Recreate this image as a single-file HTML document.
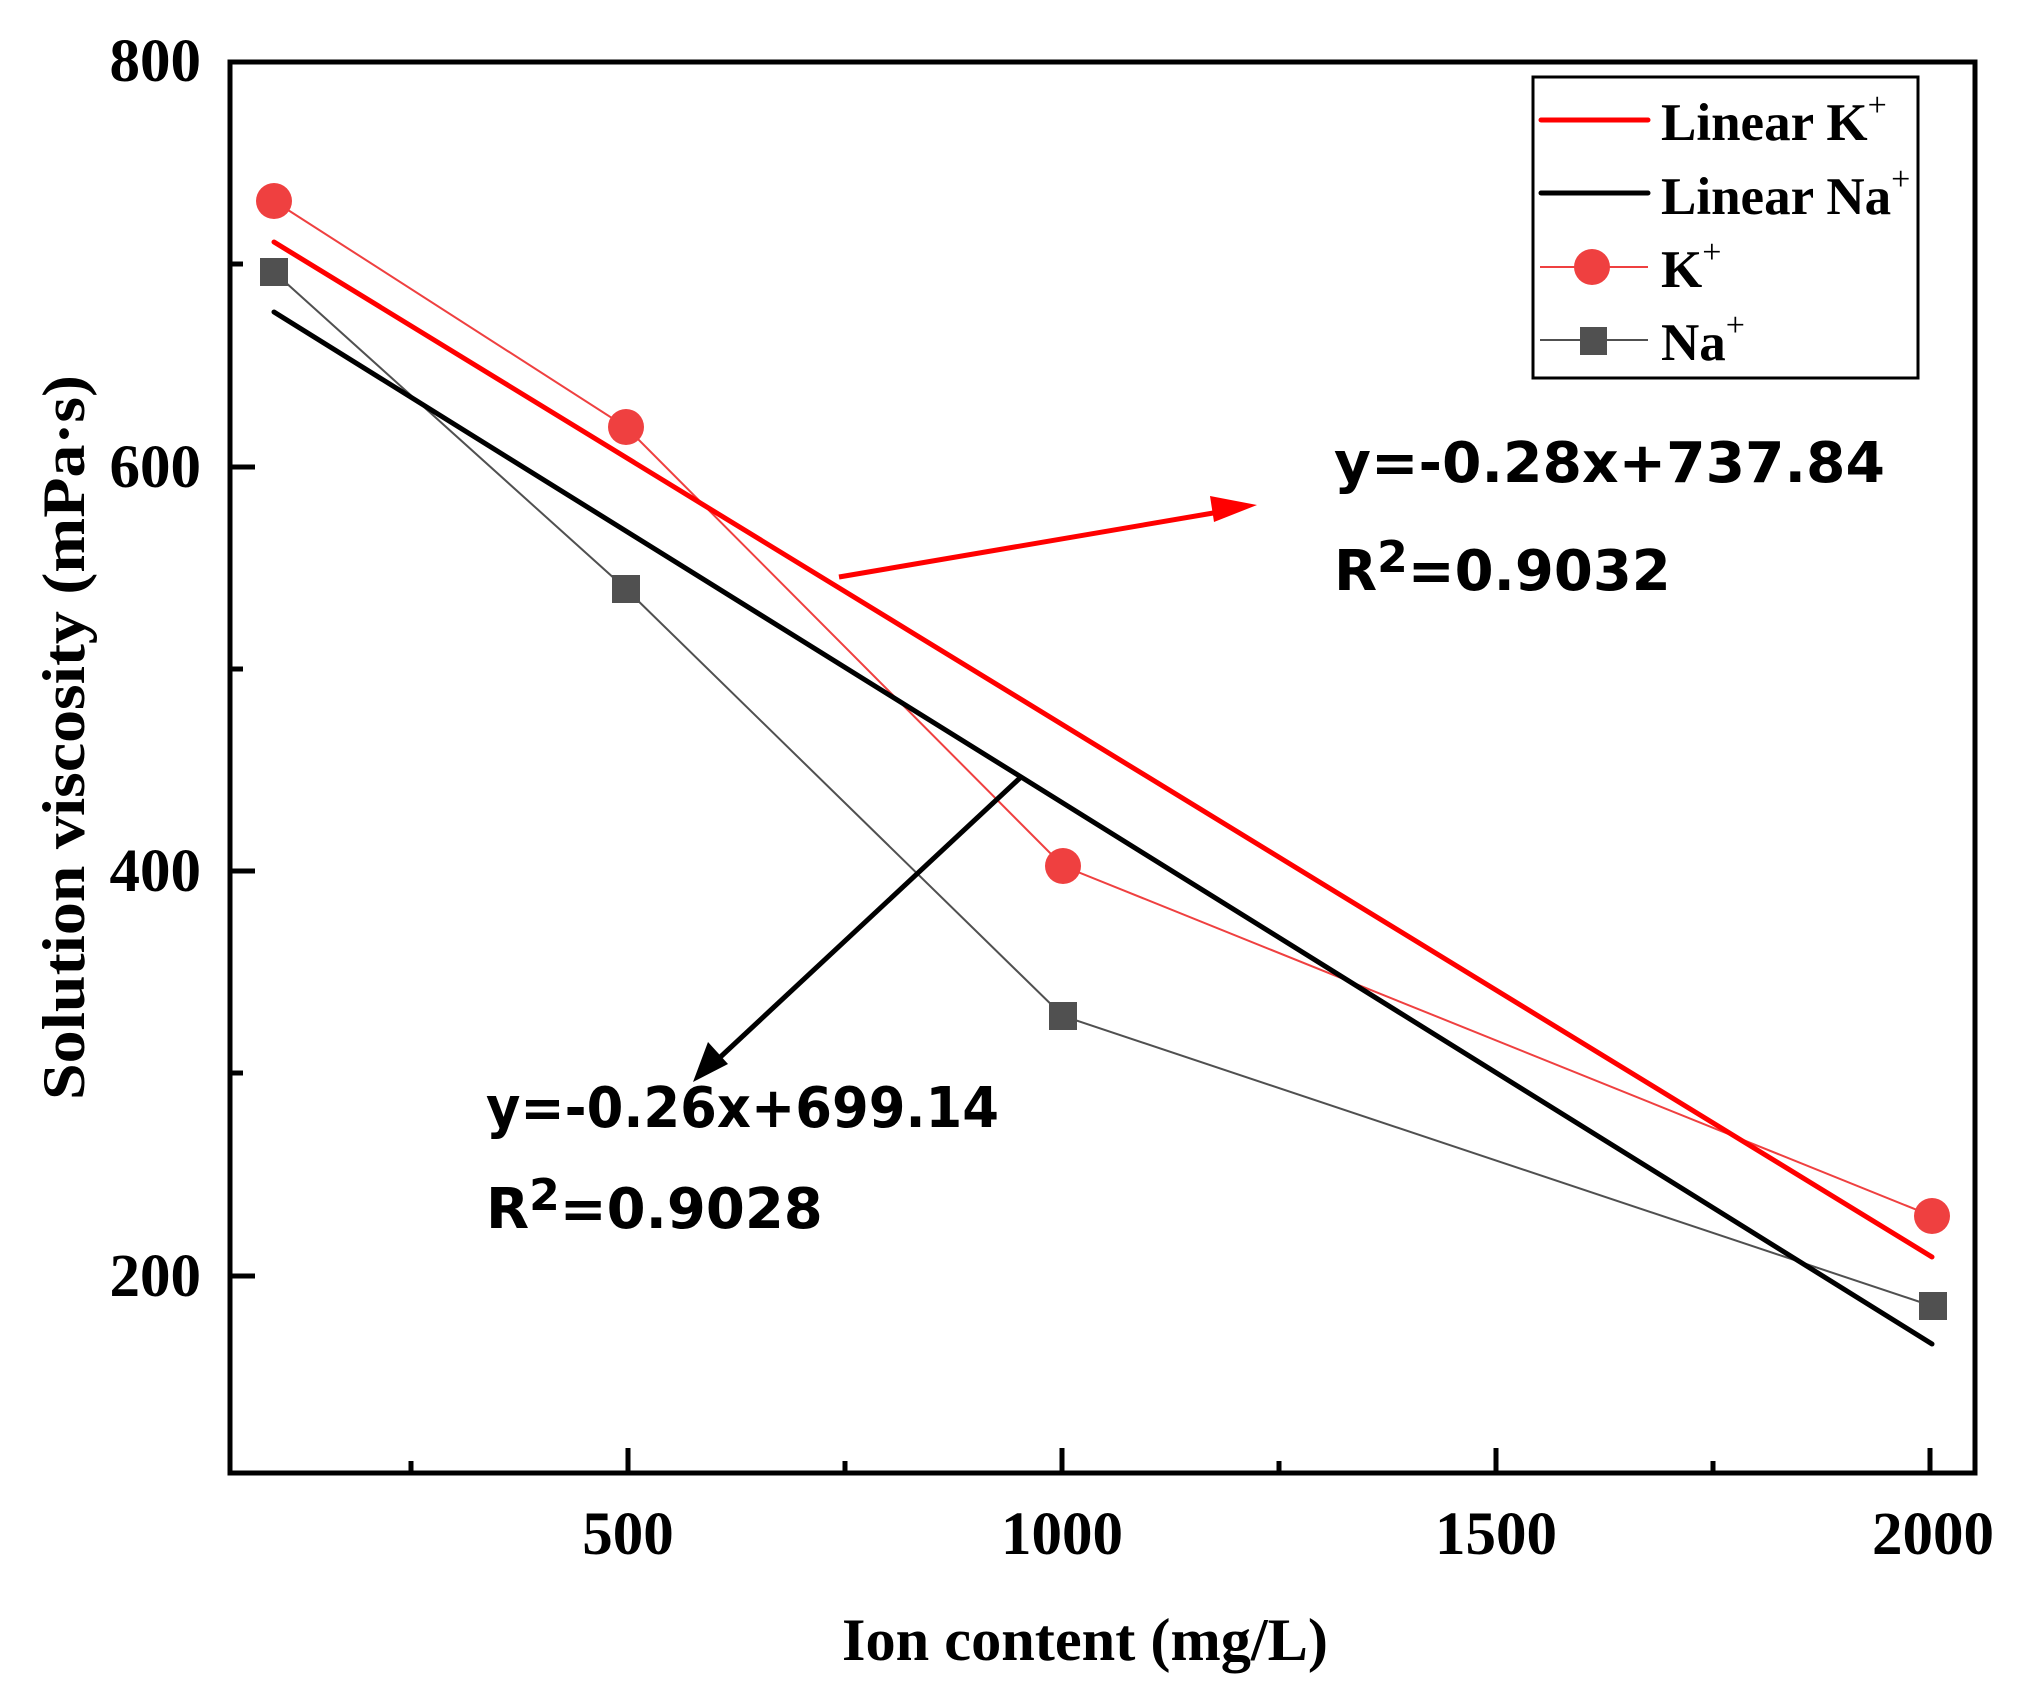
<!DOCTYPE html>
<html><head><meta charset="utf-8"><style>html,body{margin:0;padding:0;background:#fff}svg{display:block}</style></head>
<body>
<svg width="2021" height="1694" viewBox="0 0 2021 1694" xmlns="http://www.w3.org/2000/svg" font-family="Liberation Serif, serif" font-weight="bold">
<rect width="2021" height="1694" fill="#fff"/>
<g stroke="#000" stroke-width="5">
<line x1="628" y1="1473" x2="628" y2="1448"/><line x1="1062" y1="1473" x2="1062" y2="1448"/><line x1="1496" y1="1473" x2="1496" y2="1448"/><line x1="1930" y1="1473" x2="1930" y2="1448"/>
<line x1="411" y1="1473" x2="411" y2="1461"/><line x1="845" y1="1473" x2="845" y2="1461"/><line x1="1279" y1="1473" x2="1279" y2="1461"/><line x1="1713" y1="1473" x2="1713" y2="1461"/>
<line x1="230" y1="1276" x2="255" y2="1276"/><line x1="230" y1="871" x2="255" y2="871"/><line x1="230" y1="467" x2="255" y2="467"/>
<line x1="230" y1="1073" x2="243" y2="1073"/><line x1="230" y1="669" x2="243" y2="669"/><line x1="230" y1="264" x2="243" y2="264"/>
</g>
<polyline points="274,201 626,427 1063,866 1932,1216" fill="none" stroke="#ef4040" stroke-width="2"/>
<polyline points="274,272 626,589 1063,1016 1932,1306" fill="none" stroke="#505050" stroke-width="2"/>
<line x1="274" y1="242" x2="1932" y2="1257" stroke="#ff0000" stroke-width="5" stroke-linecap="round"/>
<line x1="274" y1="312" x2="1932" y2="1344" stroke="#000" stroke-width="5" stroke-linecap="round"/>
<g fill="#ef4040"><circle cx="274" cy="201" r="18"/><circle cx="626" cy="427" r="18"/><circle cx="1063" cy="866" r="18"/><circle cx="1932" cy="1216" r="18"/></g>
<g fill="#505050"><rect x="260" y="258" width="28" height="28"/><rect x="612" y="575" width="28" height="28"/><rect x="1049" y="1002" width="28" height="28"/><rect x="1919" y="1292" width="28" height="28"/></g>
<line x1="839" y1="577" x2="1225" y2="511" stroke="#ff0000" stroke-width="5"/>
<polygon points="1257,505 1210,496 1214,522" fill="#ff0000"/>
<line x1="1021" y1="777" x2="715" y2="1062" stroke="#000" stroke-width="5"/>
<polygon points="693,1082 708,1042 728,1064" fill="#000"/>
<rect x="230" y="62" width="1745" height="1411" fill="none" stroke="#000" stroke-width="5"/>
<g font-size="61" text-anchor="end">
<text x="201" y="81">800</text><text x="201" y="487">600</text><text x="201" y="891">400</text><text x="201" y="1296">200</text>
</g>
<g font-size="61" text-anchor="middle">
<text x="628" y="1554">500</text><text x="1062" y="1554">1000</text><text x="1496" y="1554">1500</text><text x="1933" y="1554">2000</text>
</g>
<text x="842" y="1660" font-size="60" textLength="486" lengthAdjust="spacingAndGlyphs">Ion content (mg/L)</text>
<text transform="translate(84,1100) rotate(-90)" font-size="60" textLength="725" lengthAdjust="spacingAndGlyphs">Solution viscosity (mPa·s)</text>
<g font-family="DejaVu Sans, sans-serif" font-size="56" fill="#000">
<text x="1334" y="482" textLength="551" lengthAdjust="spacingAndGlyphs">y=-0.28x+737.84</text>
<text x="1334" y="590">R<tspan font-size="44" dy="-18">2</tspan><tspan dy="18">=0.9032</tspan></text>
<text x="486" y="1127" textLength="513" lengthAdjust="spacingAndGlyphs">y=-0.26x+699.14</text>
<text x="486" y="1228">R<tspan font-size="44" dy="-18">2</tspan><tspan dy="18">=0.9028</tspan></text>
</g>
<rect x="1533" y="77" width="385" height="301" fill="#fff" stroke="#000" stroke-width="3"/>
<line x1="1541" y1="120" x2="1648" y2="120" stroke="#ff0000" stroke-width="5" stroke-linecap="round"/>
<line x1="1541" y1="193" x2="1648" y2="193" stroke="#000" stroke-width="5" stroke-linecap="round"/>
<line x1="1540" y1="267" x2="1648" y2="267" stroke="#ef4040" stroke-width="2"/>
<circle cx="1592" cy="267" r="18" fill="#ef4040"/>
<line x1="1540" y1="340" x2="1648" y2="340" stroke="#505050" stroke-width="2"/>
<rect x="1580" y="327" width="27" height="28" fill="#505050"/>
<g font-size="53">
<text x="1661" y="140">Linear K<tspan font-size="34" font-weight="normal" dy="-24">+</tspan></text>
<text x="1661" y="214">Linear Na<tspan font-size="34" font-weight="normal" dy="-24">+</tspan></text>
<text x="1661" y="287">K<tspan font-size="34" font-weight="normal" dy="-24">+</tspan></text>
<text x="1661" y="360">Na<tspan font-size="34" font-weight="normal" dy="-24">+</tspan></text>
</g>
</svg>
</body></html>
